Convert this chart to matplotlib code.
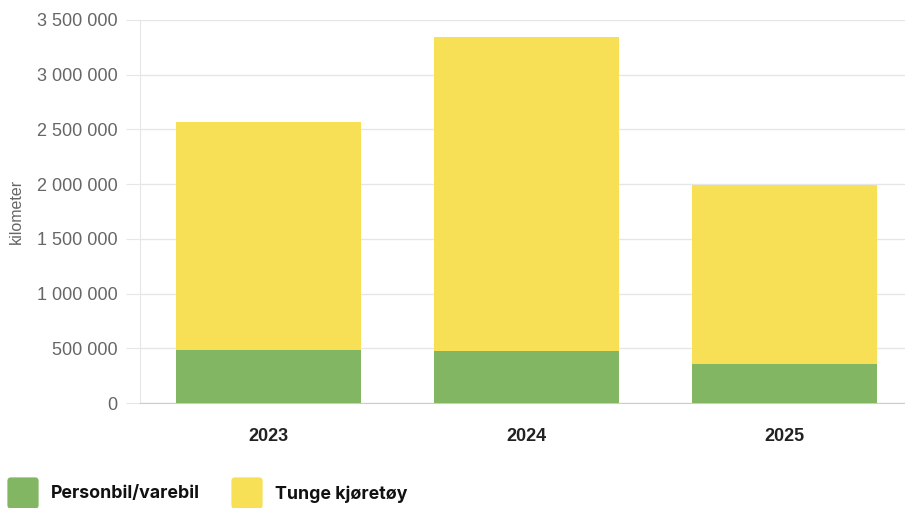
import matplotlib
matplotlib.use("Agg")
import matplotlib.pyplot as plt
from matplotlib.patches import FancyBboxPatch
from matplotlib.ticker import FuncFormatter, MultipleLocator

years = ["2023", "2024", "2025"]
personbil = [484000, 475000, 356000]
tunge = [2084000, 2870000, 1636000]

green = "#83b662"
yellow = "#f7df56"

plt.rcParams['font.family'] = ['Liberation Sans', 'DejaVu Sans']

fig = plt.figure(figsize=(9.05, 5.08), dpi=100)
W, H = 905, 508
ax = fig.add_axes([140 / W, (H - 403) / H, (W - 140) / W, 383 / H])

x = range(len(years))
ax.bar(x, personbil, width=0.717, color=green, zorder=3)
ax.bar(x, tunge, width=0.717, bottom=personbil, color=yellow, zorder=3)

ax.set_ylim(0, 3500000)
ax.set_xlim(-0.5, 2.467)
ax.yaxis.set_major_locator(MultipleLocator(500000))
ax.yaxis.set_major_formatter(FuncFormatter(lambda v, p: f"{int(v):,}".replace(",", " ")))
ax.grid(axis="y", color="#e6e6e6", linewidth=1, zorder=0)
ax.set_axisbelow(True)

for s in ["top", "right"]:
    ax.spines[s].set_visible(False)
ax.spines["left"].set_color("#e6e6e6")
ax.spines["bottom"].set_color("#cccccc")

ax.tick_params(axis="y", colors="#e6e6e6", labelcolor="#666666", labelsize=13, length=10, pad=6)
ax.tick_params(axis="x", length=0, labelsize=13, pad=18)
ax.set_xticks(list(x))
ax.set_xticklabels(years, fontweight="bold", color="#222222")
ax.set_ylabel("kilometer", color="#666666", fontsize=11.5, labelpad=10)
ax.yaxis.set_label_coords(-116 / (W - 140), 0.5)

# legend drawn below the chart
items = [("Personbil/varebil", green, 8), ("Tunge kjøretøy", yellow, 232)]
for label, col, px in items:
    fig.patches.append(FancyBboxPatch(((px + 3) / W, (H - 505) / H), 24 / W, 24 / H,
                                      boxstyle="round,pad=0.004", transform=fig.transFigure,
                                      facecolor=col, edgecolor="none",
                                      mutation_aspect=W / H))
    fig.text((px + 43) / W, (H - 494) / H, label, fontsize=12.8, fontweight="bold",
             family=["Inter", "DejaVu Sans"], va="center", ha="left", color="#111111")

fig.savefig("out.png", dpi=100)
